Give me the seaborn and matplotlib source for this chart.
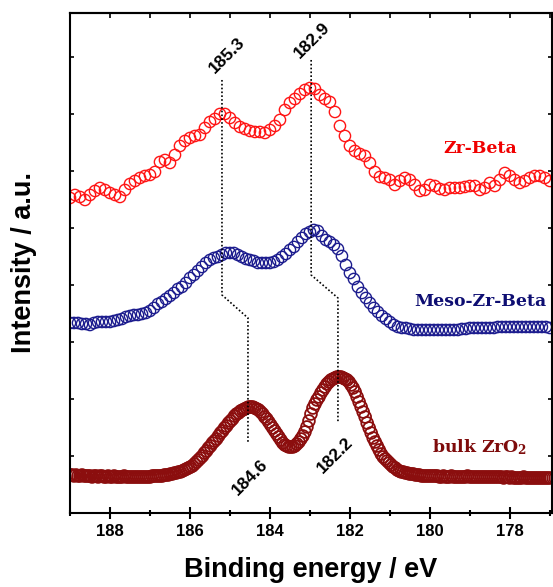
import numpy as np
import matplotlib
matplotlib.use("Agg")
import matplotlib.pyplot as plt
import seaborn as sns
from matplotlib.ticker import MultipleLocator

sns.set_style("ticks")
plt.rcParams["font.family"] = ["Liberation Sans", "DejaVu Sans"]
plt.rcParams["mathtext.fontset"] = "dejavuserif"
plt.rcParams["text.color"] = "black"
plt.rcParams["axes.labelcolor"] = "black"
plt.rcParams["xtick.color"] = "black"
plt.rcParams["ytick.color"] = "black"
plt.rcParams["axes.edgecolor"] = "black"

# ----------------------------------------------------------------------
# data (intensity in arbitrary units)
# ----------------------------------------------------------------------
zr_beta = [
    315, 318, 316, 313, 318, 322, 325, 323, 320, 318,
    316, 323, 329, 332, 335, 337, 338, 341, 351, 353,
    350, 358, 367, 372, 375, 377, 378, 385, 391, 394,
    399, 399, 395, 390, 386, 384, 382, 381, 381, 380,
    383, 387, 393, 403, 410, 414, 419, 423, 425, 424,
    418, 414, 411, 401, 387, 377, 367, 362, 359, 357,
    350, 341, 336, 335, 333, 328, 332, 335, 333, 328,
    322, 323, 328, 327, 324, 323, 325, 325, 325, 326,
    327, 327, 323, 325, 330, 327, 333, 340, 337, 333,
    330, 332, 335, 337, 337, 335, 332,
]

meso_zr_beta = [
    190, 190, 190, 189, 189, 188, 190, 191, 191, 191,
    191, 192, 193, 194, 196, 197, 198, 198, 199, 200,
    202, 205, 209, 211, 214, 217, 220, 224, 226, 230,
    235, 238, 242, 246, 250, 253, 255, 256, 258, 260,
    260, 260, 258, 256, 254, 253, 252, 250, 250, 250,
    250, 251, 253, 256, 259, 263, 266, 271, 275, 279,
    281, 283, 282, 277, 273, 271, 268, 264, 257, 248,
    240, 234, 226, 220, 215, 210, 205, 201, 197, 194,
    191, 188, 186, 185, 185, 184, 183, 183, 183, 183,
    183, 183, 183, 183, 183, 183, 183, 183, 184, 184,
    185, 185, 185, 185, 185, 185, 185, 186, 186, 186,
    186, 186, 186, 186, 186, 186, 186, 186, 186, 186,
    185,
]

bulk_zro2 = [
    38, 38, 37, 38, 37, 37, 38, 37, 37, 37,
    37, 36, 37, 37, 36, 37, 37, 36, 36, 37,
    36, 36, 37, 36, 36, 36, 36, 37, 36, 36,
    36, 36, 36, 36, 36, 36,
    36, 36, 36, 36, 36, 37, 37, 37, 37, 37, 37, 38, 38, 38,
    39, 39, 40, 40, 41, 41, 42, 43,
    44, 45, 46, 47, 49,
    51, 53, 55, 57, 60,
    62, 65, 67, 70, 72,
    74, 77, 80, 82, 85,
    87, 90, 92, 94, 97,
    99, 100, 102, 103, 104,
    105, 106, 106, 106, 105,
    104, 103, 101, 99, 96,
    94, 91, 88, 85, 82,
    79, 76, 73, 70, 68,
    67, 66, 66, 66, 67,
    69, 71, 74, 77, 81,
    86, 92, 99, 105, 109,
    113, 116, 120, 123, 126,
    129, 131, 133, 134, 135,
    136, 136, 136, 135, 134,
    133, 131, 128, 125, 121,
    116, 111, 106, 101, 96,
    90, 85, 80, 75, 71,
    67, 63, 59, 56, 54,
    52, 50, 48, 46, 45,
    43, 42, 41, 41, 40,
    40, 39, 39, 39, 38,
    38, 38, 37, 37, 37, 37, 37, 37, 37, 37,
    37, 36, 36, 37, 36, 36, 36, 37, 36, 36,
    36, 36, 36, 36, 36, 37, 36, 36, 36, 36,
    36, 36, 36, 36, 36, 36, 36, 36, 36, 36,
    36, 36, 36, 35, 36, 36, 35, 36, 35, 35,
    35, 35, 35, 36, 35, 35, 35, 35, 35, 35,
    35, 35, 35, 35, 35, 35, 35,
]

series_names = ["Zr-Beta", "Meso-Zr-Beta", r"bulk ZrO$_\mathbf{2}$"]
series_colors = ["#FF1414", "#1C1C8E", "#8B0E0E"]
label_colors = ["#F00000", "#0E0E72", "#7E0B0B"]

# peak guide lines: (upper peak, bulk peak) for each component
upper_peaks = [185.2, 182.97]
bulk_peaks = [184.55, 182.3]
peak_labels_upper = ["185.3", "182.9"]
peak_labels_bulk = ["184.6", "182.2"]

BE_START, BE_END = 189.0, 177.0

# ----------------------------------------------------------------------
# figure
# ----------------------------------------------------------------------
fig = plt.figure(figsize=(5.53, 5.87), dpi=100)
ax = fig.add_axes([0.1266, 0.1261, 0.8714, 0.8518])

marker_s = [72, 66, 66]
marker_lw = [1.3, 1.0, 1.0]
for vals, col, s, lw in zip([bulk_zro2, meso_zr_beta, zr_beta], series_colors[::-1],
                            marker_s, marker_lw):
    be = np.linspace(BE_START, BE_END, len(vals))
    sns.scatterplot(x=be, y=vals, ax=ax, marker="o", s=s, facecolor="none",
                    edgecolor=col, linewidth=lw, legend=False)

# dotted guide lines
dots = dict(color="black", lw=1.2, ls=(0, (1, 1.3)))
tops = [433, 453]
knee_hi = [218, 238]
knee_lo = [195, 215]
bottoms = [71, 91]
for i in range(2):
    ax.plot([upper_peaks[i], upper_peaks[i], bulk_peaks[i], bulk_peaks[i]],
            [tops[i], knee_hi[i], knee_lo[i], bottoms[i]], **dots)

for lab, x, y in zip(peak_labels_upper, [185.08, 182.95], [458, 473]):
    ax.text(x, y, lab, rotation=45, ha="center", va="center", fontsize=12.5,
            fontweight="bold", rotation_mode="anchor")
for lab, x, y in zip(peak_labels_bulk, [184.5, 182.38], [36, 58]):
    ax.text(x, y, lab, rotation=45, ha="center", va="center", fontsize=12.5,
            fontweight="bold", rotation_mode="anchor")

# series names
for name, col, y in zip(series_names, label_colors, [360, 207, 61]):
    ax.text(178.75, y, name, color=col, ha="center", va="baseline",
            fontsize=12.4, fontweight="bold", family="DejaVu Serif")

ax.set_xlim(BE_START, 176.95)
ax.set_ylim(0, 500)

ax.xaxis.set_major_locator(MultipleLocator(2))
ax.xaxis.set_minor_locator(MultipleLocator(1))
ax.yaxis.set_major_locator(MultipleLocator(57))
ax.tick_params(axis="x", which="major", direction="inout", length=8.5, width=1.5,
               labelsize=12, pad=4, top=False)
ax.tick_params(axis="x", which="minor", direction="inout", length=4.3, width=1.5, top=False)
ax.tick_params(axis="y", direction="in", length=3, width=1.2, left=True, right=True,
               labelleft=False)
for lbl in ax.get_xticklabels():
    lbl.set_fontweight("bold")

top = ax.secondary_xaxis("top")
top.xaxis.set_major_locator(MultipleLocator(1))
top.tick_params(direction="in", length=3.5, width=1.2, labeltop=False)
top.spines["top"].set_linewidth(1.5)

for sp in ax.spines.values():
    sp.set_linewidth(1.5)

ax.set_xlabel("Binding energy / eV", fontsize=19.5, fontweight="bold", labelpad=13)
ax.set_ylabel("Intensity / a.u.", fontsize=19.5, fontweight="bold", labelpad=24)

fig.savefig("out.png", dpi=100)
